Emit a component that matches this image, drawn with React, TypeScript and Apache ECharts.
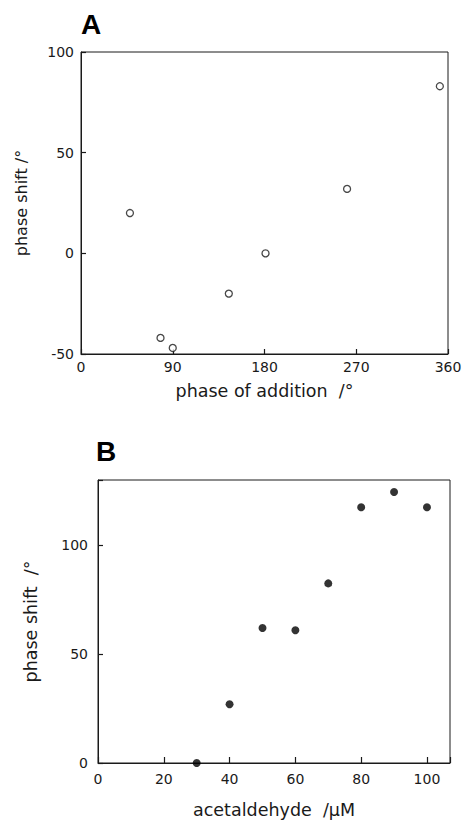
import React, { useEffect, useRef } from "react";
import * as echarts from "echarts";

// Panel A: phase of addition (deg) vs phase shift (deg)
const phaseOfAddition = [48, 78, 90, 145, 181, 261, 352];
const phaseShiftA = [20, -42, -47, -20, 0, 32, 83];

// Panel B: acetaldehyde (µM) vs phase shift (deg)
const acetaldehyde = [30, 40, 50, 60, 70, 80, 90, 100];
const phaseShiftB = [0, 27, 62, 61, 82.5, 117.5, 124.5, 117.5];

const xTicksA = [0, 90, 180, 270, 360];
const yTicksA = [-50, 0, 50, 100];
const xTicksB = [0, 20, 40, 60, 80, 100];
const yTicksB = [0, 50, 100];

const FONT = "DejaVu Sans";
const INK = "#1a1a1a";

export default function App() {
  const ref = useRef<HTMLDivElement>(null);
  useEffect(() => {
    if (!ref.current) return;
    const chart = echarts.init(ref.current, undefined, { renderer: "svg" });
    const labelStyle = { fontFamily: FONT, fontSize: 14, color: INK };
    const nameStyle = { fontFamily: FONT, fontSize: 17.5, color: INK };
    const pick = (ticks: number[]) => (v: number) => (ticks.indexOf(v) >= 0 ? String(v) : "");
    chart.setOption({
      animation: false,
      backgroundColor: "#ffffff",
      graphic: [
        { type: "text", left: 81, top: 10, style: { text: "A", font: "bold 28px 'Liberation Sans', Arial, sans-serif", fill: "#000" } },
        { type: "text", left: 96, top: 437, style: { text: "B", font: "bold 28px 'Liberation Sans', Arial, sans-serif", fill: "#000" } },
      ],
      grid: [
        { left: 81, right: 17, top: 52, bottom: 466, show: true, borderColor: INK, borderWidth: 1, backgroundColor: "transparent" },
        { left: 98, right: 15, top: 480, bottom: 57, show: true, borderColor: INK, borderWidth: 1, backgroundColor: "transparent" },
      ],
      xAxis: [
        {
          gridIndex: 0, type: "value", min: 0, max: 360, interval: 90,
          name: "phase of addition  /°", nameLocation: "middle", nameGap: 28, nameTextStyle: nameStyle,
          axisLine: { show: true, onZero: false, lineStyle: { color: INK } },
          axisTick: { show: true, inside: true, length: 5, lineStyle: { color: INK, width: 1.2 } },
          axisLabel: { ...labelStyle, margin: 6, formatter: pick(xTicksA) },
          splitLine: { show: false },
        },
        {
          gridIndex: 1, type: "value", min: 0, max: 107, interval: 20,
          name: "acetaldehyde  /µM", nameLocation: "middle", nameGap: 38, nameTextStyle: nameStyle,
          axisLine: { show: true, onZero: false, lineStyle: { color: INK } },
          axisTick: { show: true, inside: true, length: 6, lineStyle: { color: INK, width: 1.2 } },
          axisLabel: { ...labelStyle, margin: 9, formatter: pick(xTicksB) },
          splitLine: { show: false },
        },
      ],
      yAxis: [
        {
          gridIndex: 0, type: "value", min: -50, max: 100, interval: 50,
          name: "phase shift /°", nameLocation: "middle", nameGap: 52, nameTextStyle: { ...nameStyle, fontSize: 16 },
          axisLine: { show: true, onZero: false, lineStyle: { color: INK } },
          axisTick: { show: true, inside: true, length: 5, lineStyle: { color: INK, width: 1.2 } },
          axisLabel: { ...labelStyle, margin: 7, formatter: pick(yTicksA) },
          splitLine: { show: false },
        },
        {
          gridIndex: 1, type: "value", min: 0, max: 130, interval: 50,
          name: "phase shift  /°", nameLocation: "middle", nameGap: 58, nameTextStyle: nameStyle,
          axisLine: { show: true, onZero: false, lineStyle: { color: INK } },
          axisTick: { show: true, inside: true, length: 5, lineStyle: { color: INK, width: 1.2 } },
          axisLabel: { ...labelStyle, margin: 10, formatter: pick(yTicksB) },
          splitLine: { show: false },
        },
      ],
      series: [
        {
          type: "scatter", xAxisIndex: 0, yAxisIndex: 0,
          data: phaseOfAddition.map((x, i) => [x, phaseShiftA[i]]),
          symbol: "circle", symbolSize: 7,
          itemStyle: { color: "#ffffff", borderColor: INK, borderWidth: 1.3 },
        },
        {
          type: "scatter", xAxisIndex: 1, yAxisIndex: 1,
          data: acetaldehyde.map((x, i) => [x, phaseShiftB[i]]),
          symbol: "circle", symbolSize: 8,
          itemStyle: { color: "#000000" },
        },
      ],
    });
    return () => chart.dispose();
  }, []);
  return <div ref={ref} style={{ position: "fixed", left: 0, top: 0, width: 465, height: 820 }} />;
}
